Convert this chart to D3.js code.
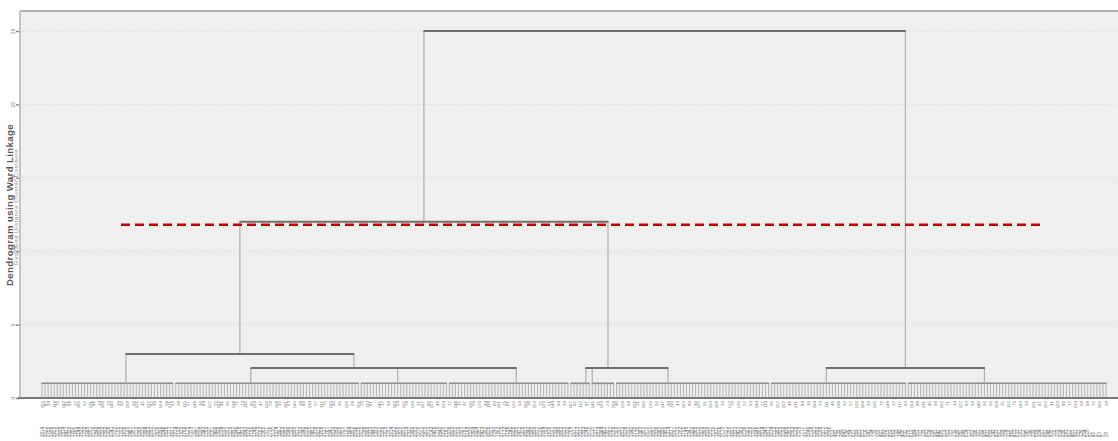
<!DOCTYPE html>
<html>
<head>
<meta charset="utf-8">
<script src="https://cdn.jsdelivr.net/npm/d3@7"></script>
<style>
  body { margin: 0; background: #ffffff; }
  svg { display: block; font-family: "Liberation Sans", Arial, sans-serif; }
</style>
</head>
<body>
<svg id="chart" width="1118" height="441"></svg>
<script>
// ---- data ----------------------------------------------------------------
const leafCount = 351;
const yTicks = [0, 5, 10, 15, 20, 25];
const cutDistance = 11.8;

// case numbers, in dendrogram leaf order
const caseNumbers = (
  "2814 3017 2755 1986 2903 3120 2698 1874 2431 3302 " +
  "2287 1965 3144 2520 1733 2968 3051 2176 1849 2604 " +
  "3229 2392 1908 2741 3083 2155 1792 2836 3190 2467 " +
  "1951 2710 3268 2039 1884 2953 2582 3137 1816 2299 " +
  "3046 2625 1773 2891 3214 2108 1932 2769 3175 2354 " +
  "1897 2681 3008 2243 1759 2927 3151 2496 1826 2734 " +
  "3092 2201 1978 2857 3246 2418 1807 2643 3029 2190 " +
  "1745 2978 3163 2365 1911 2796 3110 2274 1861 2552 " +
  "3287 2046 1793 2885 3071 2329 1940 2708 3205 2481 " +
  "1838 2613 3256 2127 1767 2941 3039 2389 1925 2822 " +
  "3181 2264 1852 2596 3125 2015 1786 2869 3233 2443 " +
  "1903 2727 3068 2218 1751 2914 3197 2508 1870 2650 " +
  "3014 2337 1989 2783 3276 2092 1815 2570 3142 2405 " +
  "1778 2849 3220 2161 1936 2692 3057 2316 1893 2761 " +
  "3168 2030 1804 2904 3251 2473 1957 2638 3003 2249 " +
  "1862 2715 3132 2186 1740 2958 3085 2427 1918 2803 " +
  "3242 2285 1829 2577 3106 2064 1799 2876 3191 2399 " +
  "1948 2662 3023 2232 1764 2931 3213 2531 1883 2748 " +
  "3075 2118 1971 2818 3264 2452 1821 2591 3156 2302 " +
  "1797 2873 3038 2207 1942 2722 3119 2363 1857 2619 " +
  "3209 2081 1836 2960 3280 2489 1914 2677 3061 2170 " +
  "1782 2790 3148 2341 1929 2865 3012 2270 1868 2539 " +
  "3237 2139 1811 2606 3178 2021 1755 2897 3223 2417 " +
  "1962 2736 3097 2258 1790 2946 3260 2514 1845 2671 " +
  "3034 2102 1983 2829 3199 2436 1803 2563 3128 2324 " +
  "1770 2911 3049 2196 1921 2699 3186 2377 1879 2586 " +
  "912 487 735 268 843 596 154 671 389 927 " +
  "503 816 247 764 139 958 421 682 315 879 " +
  "562 193 748 406 831 275 619 984 352 707 " +
  "128 893 574 236 961 447 685 319 802 163 " +
  "739 528 287 946 614 173 852 396 701 259 " +
  "985 437 668 142 823 591 308 754 216 869 " +
  "473 632 181 917 345 786 229 558 904 397 " +
  "661 248 835 119 772 504 936 283 617 455 " +
  "891 337 726 204 578 87 42 9 63 5 28"
).split(/\s+/);

// case labels ("." = no label)
const caseLabels = (
  "152 87 34 . 119 76 . 143 61 98 " +
  ". 27 165 . 52 . 131 88 . 14 " +
  "109 . 73 146 . 39 92 . 158 . " +
  "66 121 . 45 . 137 82 19 . 104 " +
  ". 58 171 93 . 28 . 115 67 . " +
  "149 . 36 84 . 127 . 55 162 41 " +
  ". 96 . 138 71 . 23 110 . 85 " +
  "154 . 47 . 126 79 . 168 33 . " +
  "101 63 . 142 . 18 89 . 134 . " +
  "57 . 117 75 . 160 42 . 95 . " +
  "129 . 68 . 151 26 . 113 81 . " +
  ". 145 37 . 99 . 166 54 . 122 " +
  "78 . 139 . 31 107 . 86 157 . " +
  "49 . 124 . 72 . 148 15 . 97 " +
  ". 135 59 . 170 . 44 118 . 83 " +
  "161 . 25 91 . 132 . 64 . 106 " +
  "38 . 153 . 77 120 . 51 144 . " +
  "94 . 29 . 167 62 . 112 . 87 " +
  ". 141 . 35 103 . 74 . 159 46 " +
  ". 128 . 69 . 155 21 . 100 . " +
  "133 . 56 . 147 . 90 116 . 43 " +
  ". 163 . 80 . 30 125 . 61 . " +
  "150 . 108 . 39 . 172 70 . 136 " +
  ". 52 . 93 . 144 . 27 119 . " +
  "65 . 157 . 102 . 48 . 131 . " +
  "84 . 19 . 164 . 73 . 111 . " +
  "40 . 138 . 92 . 57 . 126 . " +
  "169 . 33 . 105 . 76 . 148 . " +
  "22 . 117 . 60 . 154 . 88 . " +
  "131 . 45 . 99 . 162 . 71 . " +
  "14 . 127 . 83 . 50 . 140 . " +
  "96 . 66 . 158 . 35 . 112 . " +
  "79 . 143 . 24 . 101 . 67 . " +
  "150 . 41 . 123 . 86 . 17 . " +
  "134 . 59 . 98 . 75 . 160 . 28"
).split(/\s+/).map(d => (d === "." ? "" : d));

// low-level clusters: leaf ranges joined at the smallest distances
const groupNames    = ["G1", "G2", "G3", "G4", "G5", "G6", "G7", "G8", "G9"];
const groupFirst    = [0, 44, 105, 134, 174, 181, 189, 240, 285];
const groupLast     = [43, 104, 133, 173, 180, 188, 239, 284, 350];
const groupPivot    = [27.6, 68.7, 117, 156, 178.9, 181, 205.9, 258, 310];
const groupDistance = [1, 1, 1, 1, 1, 1, 1, 1, 1];

// agglomeration steps above the low-level clusters
const mergeName     = ["m1", "m2", "A",  "m3", "B",  "L",  "R",  "root"];
const mergeLeft     = ["G3", "G2", "G1", "G6", "G5", "A",  "G8", "L"];
const mergeRight    = ["G4", "m1", "m2", "G7", "m3", "B",  "G9", "R"];
const mergeDistance = [2.04, 2.04, 3.0, 2.04, 2.04, 12.0, 2.04, 25];

// ---- layout --------------------------------------------------------------
const plot = { left: 20, right: 1118, top: 11, bottom: 398 };

const x = d3.scaleLinear().domain([0, leafCount - 1]).range([42, 1106]);
const y = d3.scaleLinear().domain([0, 25]).range([398, 31]);

const svg = d3.select("#chart");

// plot background
svg.append("rect")
  .attr("x", plot.left).attr("y", plot.top)
  .attr("width", plot.right - plot.left)
  .attr("height", plot.bottom - plot.top)
  .attr("fill", "#efefef");

// dotted grid lines at each tick
svg.append("g").selectAll("line").data(yTicks.filter(t => t > 0)).join("line")
  .attr("x1", plot.left).attr("x2", plot.right)
  .attr("y1", d => y(d)).attr("y2", d => y(d))
  .attr("stroke", "#dedede").attr("stroke-width", 1)
  .attr("stroke-dasharray", "1.5,1.5");

// frame: top border, left axis line
svg.append("line")
  .attr("x1", plot.left).attr("x2", plot.right)
  .attr("y1", plot.top).attr("y2", plot.top)
  .attr("stroke", "#9a9a9a").attr("stroke-width", 1.5);
svg.append("line")
  .attr("x1", plot.left).attr("x2", plot.left)
  .attr("y1", plot.top).attr("y2", plot.bottom)
  .attr("stroke", "#c4c4c4").attr("stroke-width", 2);

// y axis ticks and labels
const yAxis = d3.axisLeft(y).tickValues(yTicks).tickSize(3).tickPadding(2)
  .tickFormat(d3.format("d"));
const gy = svg.append("g").attr("transform", `translate(${plot.left - 1},0)`).call(yAxis);
gy.select(".domain").remove();
gy.selectAll(".tick line").attr("stroke", "#8a8a8a").attr("stroke-width", 1.5);
gy.selectAll(".tick text")
  .attr("fill", "#777").attr("font-size", 4.8)
  .attr("text-anchor", "middle").attr("x", null).attr("dy", null)
  .attr("transform", "translate(-6,0) rotate(-90)")
  .attr("dominant-baseline", "central");

// axis title and subtitle
svg.append("text")
  .attr("transform", "translate(9,205) rotate(-90)")
  .attr("text-anchor", "middle").attr("dominant-baseline", "central")
  .attr("font-size", 9.6).attr("font-weight", "bold").attr("fill", "#5a5a5a")
  .attr("letter-spacing", 0.4)
  .text("Dendrogram using Ward Linkage");
svg.append("text")
  .attr("transform", "translate(15,207) rotate(-90)")
  .attr("text-anchor", "middle").attr("dominant-baseline", "central")
  .attr("font-size", 6.2).attr("fill", "#8a8a8a")
  .attr("letter-spacing", 0.5)
  .text("Rescaled Distance Cluster Combine");

// ---- tree ----------------------------------------------------------------
const nodes = {};
groupNames.forEach((name, i) => {
  nodes[name] = { pos: groupPivot[i], dist: groupDistance[i] };
});
const links = [];   // vertical connectors
const bars = [];    // horizontal joins
mergeName.forEach((name, i) => {
  const a = nodes[mergeLeft[i]], b = nodes[mergeRight[i]];
  const dist = mergeDistance[i];
  nodes[name] = { pos: (a.pos + b.pos) / 2, dist };
  links.push({ pos: a.pos, from: a.dist, to: dist });
  links.push({ pos: b.pos, from: b.dist, to: dist });
  bars.push({ p1: a.pos, p2: b.pos, dist });
});

const leaves = d3.range(leafCount).map(i => {
  const g = groupFirst.findIndex((f, k) => i >= f && i <= groupLast[k]);
  return { i, dist: groupDistance[g] };
});

// leaf stems
svg.append("g").selectAll("line").data(leaves).join("line")
  .attr("x1", d => x(d.i)).attr("x2", d => x(d.i))
  .attr("y1", y(0)).attr("y2", d => y(d.dist))
  .attr("stroke", "#b4b4b4").attr("stroke-width", 1);

// low-level cluster bars
svg.append("g").selectAll("line").data(groupNames.map((n, k) => k)).join("line")
  .attr("x1", k => x(groupFirst[k]) - 0.5).attr("x2", k => x(groupLast[k]) + 0.5)
  .attr("y1", k => y(groupDistance[k])).attr("y2", k => y(groupDistance[k]))
  .attr("stroke", "#8c8c8c").attr("stroke-width", 1.6);

// vertical connectors
svg.append("g").selectAll("line").data(links).join("line")
  .attr("x1", d => x(d.pos)).attr("x2", d => x(d.pos))
  .attr("y1", d => y(d.from)).attr("y2", d => y(d.to))
  .attr("stroke", "#b0b0b0").attr("stroke-width", 1.2);

// horizontal joins
svg.append("g").selectAll("line").data(bars).join("line")
  .attr("x1", d => x(d.p1) - 0.5).attr("x2", d => x(d.p2) + 0.5)
  .attr("y1", d => y(d.dist)).attr("y2", d => y(d.dist))
  .attr("stroke", "#6e6e6e").attr("stroke-width", 2);

// baseline
svg.append("line")
  .attr("x1", plot.left - 2).attr("x2", plot.right)
  .attr("y1", plot.bottom).attr("y2", plot.bottom)
  .attr("stroke", "#7a7a7a").attr("stroke-width", 2);

// cut line
svg.append("line")
  .attr("x1", 121).attr("x2", 1040)
  .attr("y1", y(cutDistance)).attr("y2", y(cutDistance))
  .attr("stroke", "#c00000").attr("stroke-width", 2.5)
  .attr("stroke-dasharray", "9,5");

// ---- leaf labels ---------------------------------------------------------
svg.append("g").selectAll("text").data(caseLabels.map((t, i) => ({ t, i })).filter(d => d.t))
  .join("text")
  .attr("transform", d => `translate(${x(d.i)},401) rotate(-90)`)
  .attr("text-anchor", "end").attr("dominant-baseline", "central")
  .attr("font-size", 4.4).attr("fill", "#777")
  .text(d => d.t);

svg.append("g").selectAll("text").data(caseNumbers.map((t, i) => ({ t, i })))
  .join("text")
  .attr("transform", d => `translate(${x(d.i)},437) rotate(-90)`)
  .attr("text-anchor", "start").attr("dominant-baseline", "central")
  .attr("font-size", 4.6).attr("fill", "#777")
  .text(d => d.t);
</script>
</body>
</html>
